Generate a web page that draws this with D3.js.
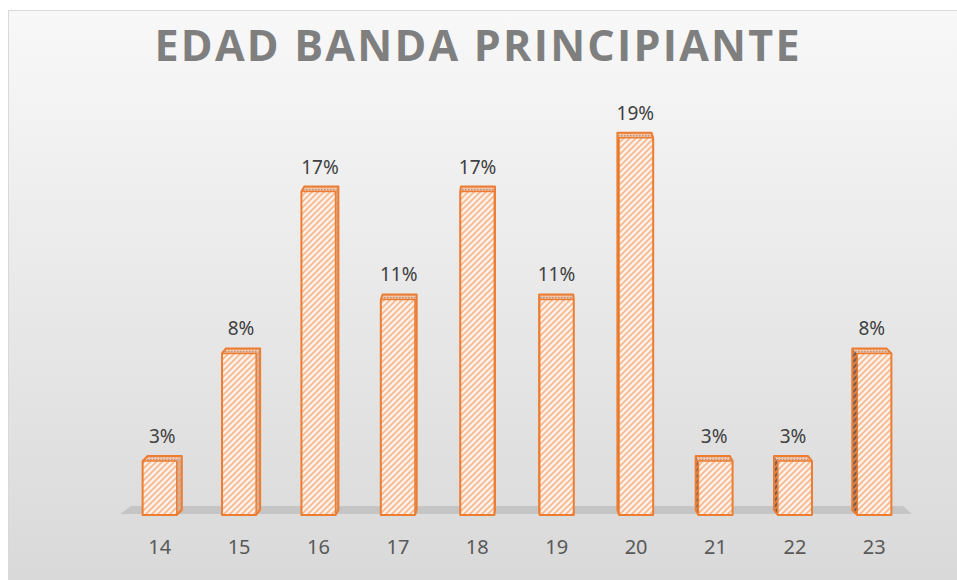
<!DOCTYPE html>
<html>
<head>
<meta charset="utf-8">
<script src="https://cdn.jsdelivr.net/npm/d3@7"></script>
<style>
  body { margin: 0; background: #fff; }
  svg { display: block; }
</style>
</head>
<body>
<div id="chart"></div>
<script>
// ages and share of the band (%)
const ages = ["14", "15", "16", "17", "18", "19", "20", "21", "22", "23"];
const shares = [2.78, 8.33, 16.67, 11.11, 16.67, 11.11, 19.44, 2.78, 2.78, 8.33];
const title = "EDAD BANDA PRINCIPIANTE";

const W = 957, H = 580;
const svg = d3.select("#chart").append("svg")
    .attr("width", W)
    .attr("height", H);

const defs = svg.append("defs");

// chart area background
const bg = defs.append("linearGradient").attr("id", "bg")
    .attr("x1", 0).attr("y1", 0).attr("x2", 0).attr("y2", 1);
bg.append("stop").attr("offset", "0%").attr("stop-color", "#f8f8f8");
bg.append("stop").attr("offset", "100%").attr("stop-color", "#d8d8d8");

// stripe pattern for the bar faces
function stripes(id, back, line) {
    const p = defs.append("pattern").attr("id", id)
        .attr("patternUnits", "userSpaceOnUse")
        .attr("width", 6).attr("height", 6);
    p.append("rect").attr("width", 6).attr("height", 6).attr("fill", back);
    p.append("path")
        .attr("d", "M0,6 L6,0 M-1.5,1.5 L1.5,-1.5 M4.5,7.5 L7.5,4.5")
        .attr("stroke", line).attr("stroke-width", 1.6);
}
stripes("front", "#fdf0e7", "#f6b88f");
stripes("sideL", "#7e6050", "#d9895a");
stripes("sideR", "#cdb5a5", "#e99d72");
const dots = defs.append("pattern").attr("id", "top")
    .attr("patternUnits", "userSpaceOnUse").attr("width", 3).attr("height", 3);
dots.append("rect").attr("width", 3).attr("height", 3).attr("fill", "#f3c3a3");
dots.append("rect").attr("width", 1.5).attr("height", 1.5).attr("fill", "#b49282");

svg.append("rect")
    .attr("x", 8.5).attr("y", 10.5)
    .attr("width", W + 10).attr("height", H + 10)
    .attr("fill", "url(#bg)")
    .attr("stroke", "#d9d9d9");

svg.append("text")
    .attr("x", 477).attr("y", 61)
    .attr("text-anchor", "middle")
    .attr("textLength", 645)
    .attr("lengthAdjust", "spacing")
    .style("font-family", "'Open Sans', sans-serif")
    .style("font-weight", "bold")
    .style("font-size", "43px")
    .style("fill", "#7f7f7f")
    .text(title);

const x = d3.scaleBand()
    .domain(ages)
    .range([120, 914])
    .paddingInner(0.57)
    .paddingOuter(0.285);

const y = d3.scaleLinear()
    .domain([0, 20])
    .range([515, 127]);

// floor
const fx0 = x.range()[0], fx1 = x.range()[1], fy = y(0);
svg.append("path")
    .attr("d", `M${fx0},${fy - 1} L${fx0 + 11},${fy - 9} L${fx1 - 11},${fy - 9} L${fx1 - 2},${fy - 1} Z`)
    .attr("fill", "#c5c5c5");

// 3d columns
const vanish = 520, depthY = -5;
const bars = svg.append("g").selectAll("g")
    .data(ages.map((a, i) => ({ age: a, v: shares[i] })))
    .join("g");

bars.each(function (d) {
    const g = d3.select(this);
    const l = x(d.age), r = l + x.bandwidth();
    const t = y(d.v), b = y(0);
    const dx = (vanish - (l + r) / 2) * 0.014;
    const pts = p => p.map(q => q.join(",")).join(" ");
    if (dx > 0) {
        g.append("polygon")
            .attr("points", pts([[r, t], [r + dx, t + depthY], [r + dx, b + depthY], [r, b]]))
            .attr("fill", "url(#sideR)");
    } else {
        g.append("polygon")
            .attr("points", pts([[l, t], [l + dx, t + depthY], [l + dx, b + depthY], [l, b]]))
            .attr("fill", "url(#sideL)");
    }
    g.append("polygon")
        .attr("points", pts([[l, t], [r, t], [r + dx, t + depthY], [l + dx, t + depthY]]))
        .attr("fill", "url(#top)");
    g.append("rect")
        .attr("x", l).attr("y", t)
        .attr("width", r - l).attr("height", b - t)
        .attr("fill", "url(#front)");
    // outline of the whole column
    const outline = dx > 0
        ? [[l, b], [l, t], [l + dx, t + depthY], [r + dx, t + depthY], [r + dx, b + depthY], [r, b]]
        : [[r, b], [r, t], [r + dx, t + depthY], [l + dx, t + depthY], [l + dx, b + depthY], [l, b]];
    g.append("polygon")
        .attr("points", pts(outline))
        .attr("fill", "none")
        .attr("stroke", "#ed7d31")
        .attr("stroke-width", 2)
        .attr("stroke-linejoin", "round");
    g.append("path")
        .attr("d", dx > 0 ? `M${l},${t} L${r},${t} L${r},${b}` : `M${r},${t} L${l},${t} L${l},${b}`)
        .attr("fill", "none")
        .attr("stroke", "#ed7d31")
        .attr("stroke-width", 1.5);

    g.append("text")
        .attr("x", (l + r) / 2 + dx / 2)
        .attr("y", t - 18)
        .attr("text-anchor", "middle")
        .style("font-family", "'Noto Sans', sans-serif")
        .style("font-size", "19px")
        .style("fill", "#404040")
        .text(Math.round(d.v) + "%");
});

const axis = svg.append("g")
    .attr("transform", `translate(0,${y(0)})`)
    .call(d3.axisBottom(x).tickSize(0).tickPadding(25));
axis.select(".domain").remove();
axis.selectAll("text")
    .style("font-family", "'Noto Sans', sans-serif")
    .style("font-size", "20px")
    .style("fill", "#595959");
</script>
</body>
</html>
